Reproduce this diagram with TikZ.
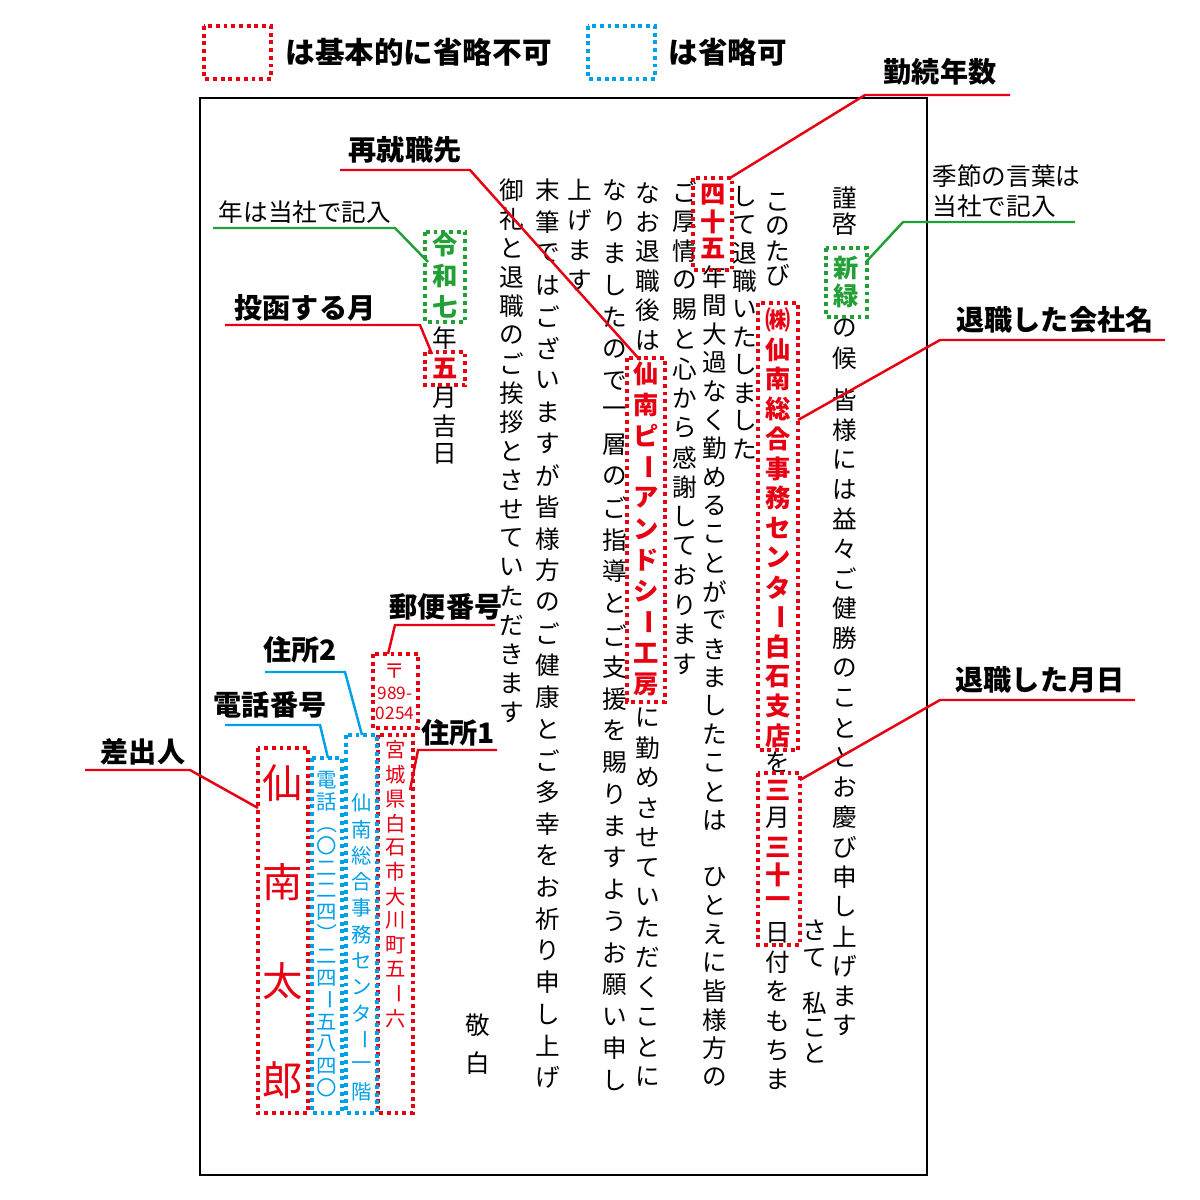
\documentclass[tikz,border=0pt]{standalone}
\usepackage{fontspec}
\setmainfont{Noto Sans CJK JP}
\usepackage{graphicx}
\definecolor{jred}{HTML}{E60012}
\definecolor{jblue}{HTML}{00A0E9}
\definecolor{jgreen}{HTML}{22A036}
\newcommand{\vr}[1]{\rotatebox[origin=c]{-90}{#1}}
% \vseg{x}{y0}{pitch}{style}{list}
\newcommand{\vseg}[5]{\foreach \c [count=\i from 0] in {#5} \node[#4] at (#1,{#2+\i*#3}) {\c};}
\tikzset{
 body/.style={inner sep=0pt,font=\fontsize{7}{7}\selectfont},
 hl/.style={inner sep=0pt,font=\fontsize{7.2}{7.2}\selectfont\bfseries,text=#1},
 addr/.style={inner sep=0pt,font=\fontsize{5.8}{5.8}\selectfont,text=#1},
 dbox/.style={draw=#1,line width=1pt,dash pattern=on 1.1pt off 1.1pt},
 lab/.style={inner sep=0pt,font=\fontsize{8}{8}\selectfont\bfseries},
 slab/.style={inner sep=0pt,font=\fontsize{7}{8.6}\selectfont,align=left},
 lead/.style={draw=#1,line width=0.7pt},
}
\begin{document}
\begin{tikzpicture}[x=0.01cm,y=-0.01cm]
\useasboundingbox (0,0) rectangle (1200,1200);
\fill[white] (0,0) rectangle (1200,1200);
% legend
\draw[dbox=jred] (204,26) rectangle (271,79);
\node[lab,anchor=west,font=\fontsize{8.4}{8.4}\selectfont\bfseries] (leg1) at (285,52) {は基本的に省略不可};
\draw[dbox=jblue] (588,26) rectangle (655,79);
\node[lab,anchor=west,font=\fontsize{8.4}{8.4}\selectfont\bfseries] (leg2) at (668,52) {は省略可};
% frame
\draw[line width=0.8pt] (200,98) rectangle (927,1175);
% col1
\vseg{845}{198}{26}{body}{謹,啓}
\vseg{846}{268}{28}{hl=jgreen}{新,緑}
\vseg{845}{328}{30}{body}{の,候}
\vseg{845}{400}{29.8}{body}{皆,様,に,は,益,々,ご,健,勝,の,こ,と,と,お,慶,び,申,し,上,げ,ま,す}
% col2
\vseg{815}{930}{28}{body}{さ,て}
\vseg{815}{1003}{25}{body}{私,こ,と}
% col3
\vseg{778}{202}{24.5}{body}{こ,の,た,び}
\vseg{778}{320}{29.7}{hl=jred}{㈱,仙,南,総,合,事,務,セ,ン,タ,\vr{ー},白,石,支,店}
\node[body] at (778,762) {を};
\vseg{778}{790}{57}{hl=jred}{三,三}
\node[body] at (778,818) {月};
\vseg{778}{875}{28}{hl=jred}{十,一}
\vseg{778}{933}{29.3}{body}{日,付,を,も,ち,ま}
% col4
\vseg{745}{197}{28}{body}{し,て,退,職,い,た,し,ま,し,た}
% col5
\vseg{713}{195}{26.5}{hl=jred}{四,十,五}
\vseg{715}{277}{28.6}{body}{年,間,大,過,な,く,勤,め,る,こ,と,が,で,き,ま,し,た,こ,と,は}
\vseg{715}{877}{28.6}{body}{ひ,と,え,に,皆,様,方,の}
% col6
\vseg{685}{192}{29.5}{body}{ご,厚,情,の,賜,と,心,か,ら,感,謝,し,て,お,り,ま,す}
% col7
\vseg{648}{193}{29.4}{body}{な,お,退,職,後,は}
\vseg{646}{374}{31}{hl=jred}{仙,南,ピ,\vr{ー},ア,ン,ド,シ,\vr{ー},工,房}
\vseg{648}{718}{29.9}{body}{に,勤,め,さ,せ,て,い,た,だ,く,こ,と,に}
% col8
\vseg{615}{190}{31.8}{body}{な,り,ま,し,た,の,で,一,層,の,ご,指,導,と,ご,支,援,を,賜,り,ま,す,よ,う,お,願,い,申,し}
% col9
\vseg{580}{190}{30}{body}{上,げ,ま,す}
% col10
\vseg{548}{190}{31.7}{body}{末,筆,で,は,ご,ざ,い,ま,す,が,皆,様,方,の,ご,健,康,と,ご,多,幸,を,お,祈,り,申,し,上,げ}
% col11
\vseg{512}{190}{29}{body}{御,礼,と,退,職,の,ご,挨,拶,と,さ,せ,て,い,た,だ,き,ま,す}
% col12
\vseg{478}{1025}{38}{body}{敬,白}
% col13
\vseg{445}{245}{31}{hl=jgreen}{令,和,七}
\node[body] at (445,338) {年};
\node[hl=jred] at (445,368) {五};
\vseg{445}{398}{28}{body}{月,吉,日}
% address
\node[addr=jred] (zip1) at (395,671) {〒};
\node[addr=jred,font=\fontsize{4.9}{4.9}\selectfont] (zip2) at (395,693) {989-};
\node[addr=jred,font=\fontsize{4.9}{4.9}\selectfont] (zip3) at (395,713) {0254};
\vseg{396}{750}{24.4}{addr=jred}{宮,城,県,白,石,市,大,川,町,五,\vr{ー},六}
\vseg{362}{803}{26.3}{addr=jblue}{仙,南,総,合,事,務,セ,ン,タ,\vr{ー},一,階}
\vseg{327}{780}{22}{addr=jblue}{電,話,\vr{（},〇,二,二,四,\vr{）},二,四,\vr{ー},五,八,四,〇}
\vseg{283}{783}{99}{inner sep=0pt,font=\fontsize{11.5}{11.5}\selectfont,text=jred}{仙,南,太,郎}
% boxes
\draw[dbox=jgreen] (826,248) rectangle (867,317);
\draw[dbox=jred] (693,178) rectangle (732,270);
\draw[dbox=jred] (758,303) rectangle (798,750);
\draw[dbox=jred] (627,358) rectangle (665,702);
\draw[dbox=jred] (758,773) rectangle (800,945);
\draw[dbox=jgreen] (425,232) rectangle (465,322);
\draw[dbox=jred] (425,352) rectangle (465,385);
\draw[dbox=jred] (373,654) rectangle (418,728);
\draw[dbox=jred] (378,735) rectangle (413,1113);
\draw[dbox=jblue] (346,735) rectangle (377,1113);
\draw[dbox=jblue] (312,758) rectangle (342,1113);
\draw[dbox=jred] (258,748) rectangle (308,1113);
% annotations
\node[lab] (a1) at (940,72) {勤続年数};
\draw[lead=jred] (1010,95) -- (865,95) -- (730,178);
\node[lab] (a2) at (405,150) {再就職先};
\draw[lead=jred] (340,170) -- (470,170) -- (640,360);
\node[slab] (a3) at (305,212) {年は当社で記入};
\draw[lead=jgreen] (213,228) -- (395,228) -- (428,262);
\node[slab,anchor=west] (a4) at (932,191) {季節の言葉は\\当社で記入};
\draw[lead=jgreen] (1075,222) -- (903,222) -- (866,262);
\node[lab] (a5) at (305,308) {投函する月};
\draw[lead=jred] (225,325) -- (420,325) -- (432,354);
\node[lab] (a6) at (1055,320) {退職した会社名};
\draw[lead=jred] (1165,340) -- (940,340) -- (798,420);
\node[lab] (a7) at (1040,680) {退職した月日};
\draw[lead=jred] (1135,700) -- (940,700) -- (800,780);
\node[lab] (a8) at (446,607) {郵便番号};
\draw[lead=jred] (495,625) -- (395,625) -- (388,654);
\node[lab] (a9) at (300,650) {住所2};
\draw[lead=jblue] (265,672) -- (345,672) -- (362,735);
\node[lab] (a10) at (270,705) {電話番号};
\draw[lead=jblue] (225,725) -- (320,725) -- (328,758);
\node[lab] (a11) at (458,733) {住所1};
\draw[lead=jred] (497,750) -- (418,750) -- (410,790);
\node[lab] (a12) at (143,752) {差出人};
\draw[lead=jred] (85,770) -- (190,770) -- (258,808);
\end{tikzpicture}
\end{document}
